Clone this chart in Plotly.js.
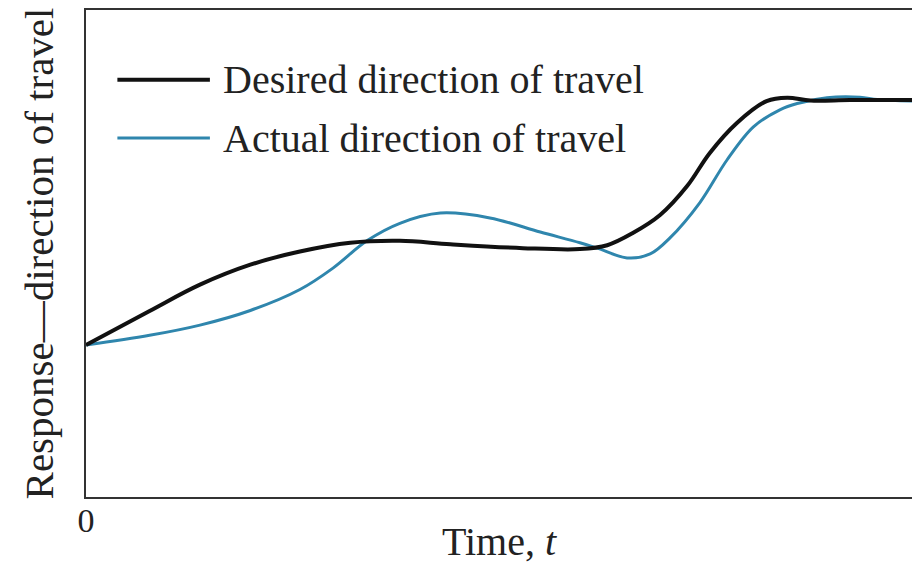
<!DOCTYPE html>
<html><head><meta charset="utf-8">
<script src="https://cdn.plot.ly/plotly-3.0.1.min.js"></script>
<style>html,body{margin:0;padding:0;background:#fff}</style>
</head><body><div id="chart" style="width:912px;height:564px"></div>
<script>
const seriesNames = ["Desired direction of travel", "Actual direction of travel"];
const desiredT = [0, 0.77, 1.38, 1.99, 2.59, 3.20, 3.80, 4.41, 5.29, 5.98, 6.31, 6.62, 6.95, 7.28, 7.55, 7.88, 8.24, 8.49, 8.77, 9.25, 10];
const desiredY = [31.2, 38.2, 43.6, 47.7, 50.4, 52.2, 52.6, 51.9, 51.1, 50.9, 51.7, 54.2, 57.9, 63.9, 70.6, 76.8, 81.3, 82.0, 81.4, 81.5, 81.5];
const actualT = [0, 0.77, 1.38, 1.99, 2.59, 2.99, 3.40, 3.80, 4.29, 4.89, 5.50, 5.98, 6.19, 6.55, 6.83, 7.07, 7.43, 7.76, 8.08, 8.40, 8.61, 8.97, 9.37, 9.58, 10];
const actualY = [31.2, 33.2, 35.3, 38.3, 42.6, 47.0, 52.6, 56.2, 58.3, 57.3, 54.4, 52.2, 51.1, 49.1, 49.9, 53.2, 60.4, 69.2, 76.0, 79.5, 80.8, 82.0, 82.1, 81.6, 81.3];
const xTickVals = [0];
const xTickText = ["0"];
const xTitle = "Time, <i>t</i>";
const yTitle = "Response—direction of travel";

const font = "Liberation Serif, Times New Roman, serif";
const black = "#111111", blue = "#2f86ad";

const traces = [
  {x: actualT, y: actualY, mode: "lines", name: seriesNames[1],
   line: {color: blue, width: 3, shape: "spline", smoothing: 1}},
  {x: desiredT, y: desiredY, mode: "lines", name: seriesNames[0],
   line: {color: black, width: 4, shape: "spline", smoothing: 1}}
];

const layout = {
  width: 912, height: 564,
  margin: {l: 86, r: 0, t: 10, b: 67},
  paper_bgcolor: "#fff", plot_bgcolor: "#fff",
  showlegend: false,
  font: {family: font, color: "#222", size: 36},
  xaxis: {range: [0, 10], showgrid: false, zeroline: false,
    showline: true, linecolor: "#333", linewidth: 2, mirror: true,
    tickvals: xTickVals, ticktext: xTickText, ticks: "", ticklen: 0,
    ticklabelstandoff: -8,
    tickfont: {family: font, size: 34, color: "#222"},
    title: {text: xTitle, font: {family: font, size: 40, color: "#222"}, standoff: 0}},
  yaxis: {range: [0, 100], showgrid: false, zeroline: false,
    showline: true, linecolor: "#333", linewidth: 2,
    showticklabels: false, ticks: "",
    title: {text: yTitle, font: {family: font, size: 41, color: "#222"}, standoff: 18}},
  shapes: [
    {type: "line", xref: "paper", yref: "paper", x0: 0.038, x1: 0.150, y0: 0.857, y1: 0.857,
     line: {color: black, width: 4}},
    {type: "line", xref: "paper", yref: "paper", x0: 0.038, x1: 0.150, y0: 0.737, y1: 0.737,
     line: {color: blue, width: 3}}
  ],
  annotations: [
    {xref: "paper", yref: "paper", x: 0.163, y: 0.857, xanchor: "left", yanchor: "middle",
     text: seriesNames[0], showarrow: false, font: {family: font, size: 40, color: "#222"}},
    {xref: "paper", yref: "paper", x: 0.163, y: 0.737, xanchor: "left", yanchor: "middle",
     text: seriesNames[1], showarrow: false, font: {family: font, size: 40, color: "#222"}}
  ]
};
Plotly.newPlot("chart", traces, layout, {displayModeBar: false, staticPlot: true});
</script></body></html>
